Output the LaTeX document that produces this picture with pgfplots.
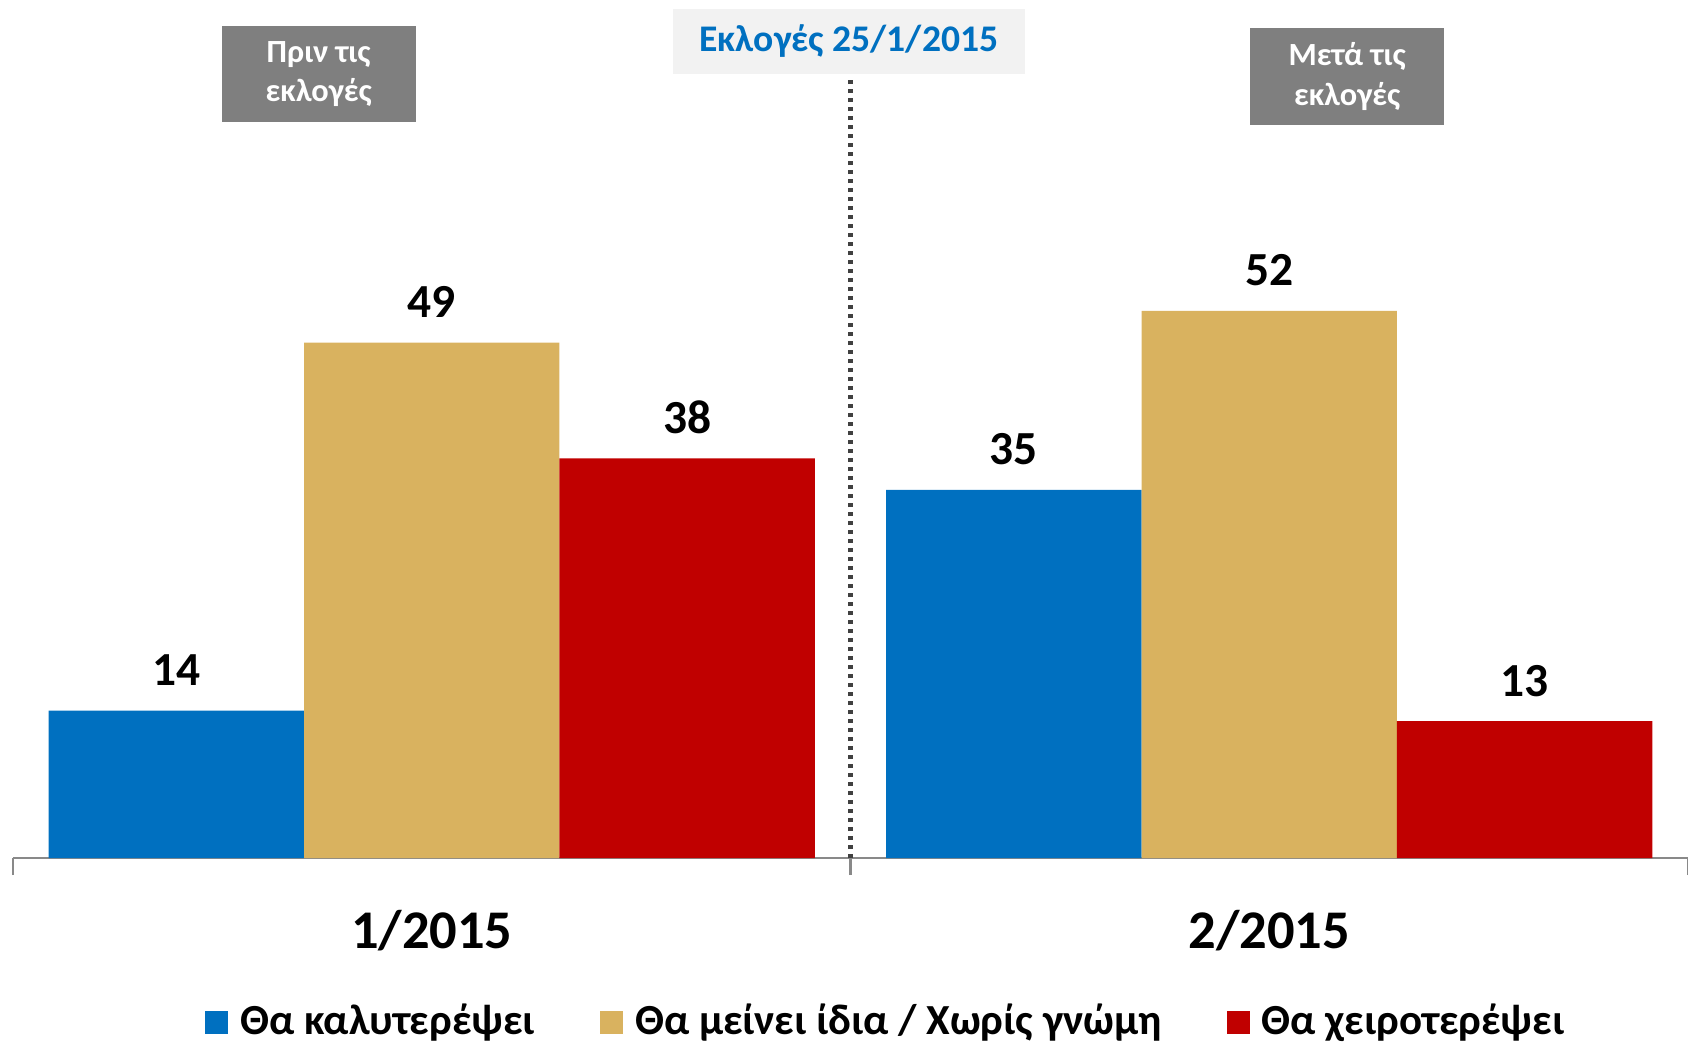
\documentclass[border=0pt]{standalone}
\usepackage{pgfplots}
\pgfplotsset{compat=1.18}
\usepackage{fontspec}
\setmainfont{Carlito}
\definecolor{cblue}{HTML}{0070C0}
\definecolor{cgold}{HTML}{D9B25F}
\definecolor{cred}{HTML}{C00000}
\definecolor{cgray}{HTML}{7F7F7F}
\definecolor{cdark}{HTML}{404040}
\definecolor{caxis}{HTML}{898989}
\definecolor{clight}{HTML}{F2F2F2}
\begin{document}
\begin{tikzpicture}
\begin{axis}[
  scale only axis, width=167.5mm, height=85.8mm,
  xmin=-0.5, xmax=1.5, ymin=0, ymax=81.56,
  ybar=0pt, bar width=0.305,
  /pgf/number format/assume math mode=true,
  hide y axis, axis x line*=bottom,
  x axis line style={draw=caxis, line width=0.6pt, -},
  xtick={0,1}, xticklabels={1/2015, 2/2015}, major tick length=0pt,
  extra x ticks={-0.5,0.5,1.5}, extra x tick labels={},
  extra x tick style={major tick length=1.7mm, tick align=outside, tick style={draw=caxis, line width=0.6pt}},
  xticklabel style={font=\fontsize{15.5}{18}\selectfont\bfseries, yshift=-4mm},
  nodes near coords,
  nodes near coords style={font=\fontsize{13.5}{16}\selectfont\bfseries, anchor=base, yshift=2.5mm, black},
  legend style={at={(0.5226,0)}, anchor=center, yshift=-16.4mm, draw=none, legend columns=3,
    font=\fontsize{12.2}{14}\selectfont\bfseries,
    /tikz/every even column/.append style={column sep=5.8mm},
    /tikz/every odd column/.append style={column sep=0.5mm}},
  legend image code/.code={\fill[#1] (0mm,-1.15mm) rectangle (2.3mm,1.15mm);},
  clip=false,
]
\addplot[fill=cblue, draw=none] coordinates {(0,14) (1,35)};
\addplot[fill=cgold, draw=none] coordinates {(0,49) (1,52)};
\addplot[fill=cred, draw=none] coordinates {(0,38) (1,13)};
\legend{Θα καλυτερέψει, Θα μείνει ίδια / Χωρίς γνώμη, Θα χειροτερέψει}
\draw[cdark, line width=1.2pt, dash pattern=on 0.45mm off 0.45mm] (axis cs:0.5,0) -- (axis cs:0.5,74.1);
\node[fill=cgray, text=white, minimum width=19.4mm, minimum height=9.6mm, inner sep=0pt, align=center,
  font=\fontsize{9.2}{11.2}\selectfont\bfseries] at (axis cs:-0.135,74.55) {Πριν τις\\εκλογές};
\node[fill=cgray, text=white, minimum width=19.4mm, minimum height=9.7mm, inner sep=0pt, align=center,
  font=\fontsize{9.2}{11.2}\selectfont\bfseries] at (axis cs:1.093,74.3) {Μετά τις\\εκλογές};
\node[fill=clight, text=cblue, minimum width=35.2mm, minimum height=6.5mm, inner sep=0pt,
  font=\fontsize{10.7}{13}\selectfont\bfseries] at (axis cs:0.498,77.66) {Εκλογές 25/1/2015};
\coordinate (ll) at (rel axis cs:0,0);
\coordinate (ur) at (rel axis cs:1,1);
\end{axis}
\pgfresetboundingbox
\path ([xshift=-1.3mm,yshift=-19.2mm]ll) rectangle (ur);
\end{tikzpicture}
\end{document}
